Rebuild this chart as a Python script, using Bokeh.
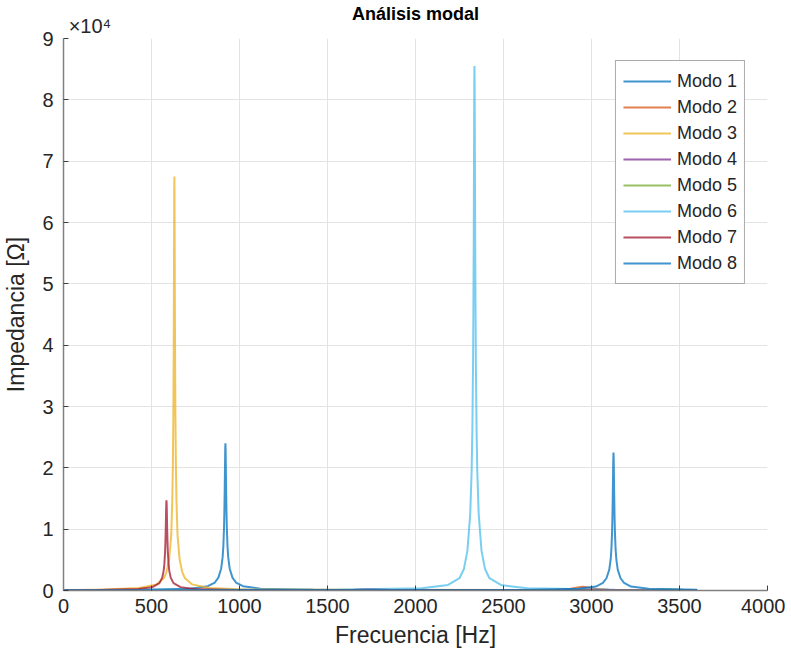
from bokeh.plotting import figure
from bokeh.models import Range1d, FixedTicker, Legend, LegendItem, LinearAxis
from bokeh.embed import file_html
from bokeh.resources import INLINE

# ---------------- data ----------------
mode_names = ["Modo 1", "Modo 2", "Modo 3", "Modo 4", "Modo 5", "Modo 6", "Modo 7", "Modo 8"]
mode_colors = ["#0072BD", "#D95319", "#EDB120", "#7E2F8E", "#77AC30", "#4DBEEE", "#A2142F", "#0072BD"]

# Modo 1: peak near 920 Hz
f1 = [0, 420, 720, 820, 860, 880, 896, 904, 908, 912, 914, 916, 917, 918, 919, 920,
      921, 922, 923, 924, 926, 928, 932, 936, 944, 960, 980, 1020, 1120, 1420, 3600]
z1 = [50, 110, 300, 700, 1300, 2100, 3600, 5400, 7100, 10200, 12800, 16500, 18800, 21200, 23200, 24000,
      23200, 21200, 18800, 16500, 12800, 10200, 7100, 5400, 3600, 2100, 1300, 700, 300, 110, 50]

# Modo 2: small bump near 2950 Hz
f2 = [0, 1500, 2500, 2800, 2880, 2920, 2940, 2950, 2960, 2980, 3020, 3100, 3400, 3600]
z2 = [10, 15, 40, 120, 290, 480, 570, 600, 570, 480, 290, 120, 40, 25]

# Modo 3: peak near 630 Hz
f3 = [0, 230, 430, 530, 570, 585, 600, 612, 618, 621, 624, 625.5, 627, 627.75, 628.5, 629.25, 630,
      630.75, 631.5, 632.25, 633, 634.5, 636, 639, 642, 648, 660, 675, 690, 730, 830, 1030, 3600]
z3 = [60, 150, 400, 1000, 2000, 3000, 5000, 9000, 14500, 19500, 28000, 35000, 45000, 52000, 59000, 65000, 67500,
      65000, 59000, 52000, 45000, 35000, 28000, 19500, 14500, 9000, 5000, 3000, 2000, 1000, 400, 150, 60]

# Modo 4: hardly visible
f4 = [0, 1000, 1500, 1650, 1720, 1750, 1780, 1850, 2000, 3600]
z4 = [5, 20, 60, 140, 230, 250, 230, 140, 60, 10]

# Modo 5: hardly visible
f5 = [0, 2000, 3200, 3380, 3430, 3450, 3470, 3520, 3600]
z5 = [3, 10, 40, 110, 170, 180, 170, 110, 70]

# Modo 6: peak near 2335 Hz
f6 = [0, 1535, 2035, 2185, 2250, 2275, 2295, 2311, 2319, 2323, 2327, 2329, 2331, 2332, 2333, 2334, 2335,
      2336, 2337, 2338, 2339, 2341, 2343, 2347, 2351, 2359, 2375, 2395, 2420, 2485, 2635, 3135, 3600]
z6 = [60, 120, 350, 900, 2000, 3500, 6500, 12500, 19500, 26000, 37000, 46000, 58000, 66000, 75000, 82000, 85500,
      82000, 75000, 66000, 58000, 46000, 37000, 26000, 19500, 12500, 6500, 3500, 2000, 900, 350, 120, 80]

# Modo 7: peak near 585 Hz
f7 = [0, 185, 425, 505, 545, 561, 569, 573, 577, 579, 581, 582, 583, 584, 585,
      586, 587, 588, 589, 591, 593, 597, 601, 609, 625, 665, 745, 985, 3600]
z7 = [40, 100, 250, 550, 1200, 2100, 3200, 4300, 6200, 7800, 10000, 11500, 13000, 14200, 14700,
      14200, 13000, 11500, 10000, 7800, 6200, 4300, 3200, 2100, 1200, 550, 250, 100, 20]

# Modo 8: peak near 3125 Hz
f8 = [0, 2625, 2925, 3025, 3065, 3085, 3101, 3109, 3113, 3117, 3119, 3121, 3122, 3123, 3124, 3125,
      3126, 3127, 3128, 3129, 3131, 3133, 3137, 3141, 3149, 3165, 3185, 3225, 3325, 3600]
z8 = [50, 100, 280, 650, 1250, 2000, 3400, 5100, 6700, 9600, 12000, 15500, 17600, 19900, 21700, 22500,
      21700, 19900, 17600, 15500, 12000, 9600, 6700, 5100, 3400, 2000, 1250, 650, 280, 120]

freqs = [f1, f2, f3, f4, f5, f6, f7, f8]
imps = [z1, z2, z3, z4, z5, z6, z7, z8]

x_ticks = [0, 500, 1000, 1500, 2000, 2500, 3000, 3500, 4000]
y_ticks = [0, 10000, 20000, 30000, 40000, 50000, 60000, 70000, 80000, 90000]
y_tick_labels = ["0", "1", "2", "3", "4", "5", "6", "7", "8", "9"]
exponent_text = "×10⁴"

title_text = "Análisis modal"
x_label = "Frecuencia [Hz]"
y_label = "Impedancia [Ω]"

# ---------------- figure ----------------
FONT = "Liberation Sans"
TXT = "#262626"

p = figure(width=785, height=660, output_backend="svg", toolbar_location=None,
           x_range=Range1d(0, 4000), y_range=Range1d(0, 90000),
           min_border_left=63, min_border_right=18, min_border_top=35, min_border_bottom=70)
p.outline_line_color = None
p.background_fill_color = "white"
p.border_fill_color = "white"

lines = []
for f, z, c in zip(freqs, imps, mode_colors):
    r = p.line(f, z, line_color=c, line_width=2, line_alpha=0.75)
    lines.append(r)

for ax in (p.xaxis[0], p.yaxis[0]):
    ax.axis_line_color = "#808080"
    ax.axis_line_width = 1.5
    ax.major_tick_line_color = "#404040"
    ax.major_tick_in = 5
    ax.major_tick_out = 0
    ax.minor_tick_line_color = None
    ax.major_label_text_font = FONT
    ax.major_label_text_font_size = "20px"
    ax.major_label_text_color = TXT
    ax.axis_label_text_font = FONT
    ax.axis_label_text_font_size = "23px"
    ax.axis_label_text_font_style = "normal"
    ax.axis_label_text_color = TXT

p.xaxis[0].ticker = FixedTicker(ticks=x_ticks)
p.yaxis[0].ticker = FixedTicker(ticks=y_ticks)
p.yaxis[0].major_label_overrides = {t: l for t, l in zip(y_ticks, y_tick_labels)}
p.xaxis[0].axis_label = x_label
p.yaxis[0].axis_label = y_label
p.xaxis[0].major_label_standoff = 8
p.yaxis[0].major_label_standoff = 10
p.xaxis[0].axis_label_standoff = 6
p.yaxis[0].axis_label_standoff = 10

p.xgrid.grid_line_color = "#e3e3e3"
p.ygrid.grid_line_color = "#e3e3e3"
p.xgrid.grid_line_width = 1
p.ygrid.grid_line_width = 1

# top axis used only to carry the exponent label and the title
top = LinearAxis(ticker=FixedTicker(ticks=[150]), major_label_overrides={150: exponent_text})
top.axis_line_color = None
top.major_tick_line_color = None
top.minor_tick_line_color = None
top.major_tick_in = 0
top.major_tick_out = 0
top.major_label_standoff = 2
top.major_label_text_font = FONT
top.major_label_text_font_size = "20px"
top.major_label_text_color = TXT
top.axis_label = title_text
top.axis_label_text_font = FONT
top.axis_label_text_font_size = "18px"
top.axis_label_text_font_style = "bold"
top.axis_label_text_color = "black"
top.axis_label_standoff = -12
p.add_layout(top, "above")

legend = Legend(items=[LegendItem(label=n, renderers=[r]) for n, r in zip(mode_names, lines)],
                location="top_right")
legend.margin = 22
legend.padding = 7
legend.spacing = 0
legend.label_height = 26
legend.glyph_height = 26
legend.glyph_width = 48
legend.label_standoff = 6
legend.label_text_font = FONT
legend.label_text_font_size = "18px"
legend.label_text_color = TXT
legend.border_line_color = "#555555"
legend.border_line_width = 1.5
legend.background_fill_alpha = 1
p.add_layout(legend)

open("out.html", "w").write(file_html(p, INLINE))
